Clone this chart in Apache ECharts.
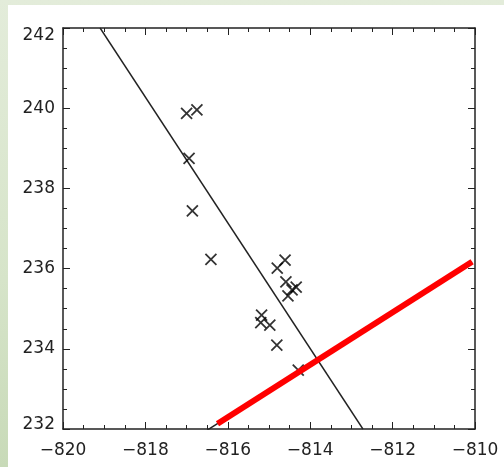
<!DOCTYPE html>
<html>
<head>
<meta charset="utf-8">
<script src="https://cdn.jsdelivr.net/npm/echarts@6/dist/echarts.min.js"></script>
<style>
  html, body { margin: 0; padding: 0; }
  body {
    width: 504px; height: 467px; overflow: hidden; position: relative;
    background: linear-gradient(to bottom, #e3ecda 0%, #d6e4c9 60%, #c8dab8 100%);
  }
  #panel { position: absolute; left: 8px; top: 5px; right: 0; bottom: 0; background: #ffffff; }
  #chart { position: absolute; left: 0; top: 0; width: 504px; height: 467px; }
</style>
</head>
<body>
<div id="panel"></div>
<div id="chart"></div>
<script>
// Measured positions (x, y) of the individual points
const pointX = [-817.0, -816.75, -816.94, -816.86, -816.41, -814.8, -814.61, -814.59,
                -814.44, -814.34, -814.54, -815.18, -815.2, -814.98, -814.81, -814.29];
const pointY = [239.87, 239.96, 238.75, 237.44, 236.23, 236.01, 236.21, 235.67,
                235.47, 235.54, 235.32, 234.84, 234.65, 234.59, 234.09, 233.47];

// Fitted line through the points
const fitX = [-819.1, -812.72];
const fitY = [242, 232];

// Thin guide line and the thick red line lying on it
const guideX = [-816.5, -810.07];
const guideY = [231.97, 236.17];
const redX = [-816.25, -810.07];
const redY = [232.13, 236.17];

// Axis ranges and tick spacing
const xRange = [-820, -810];
const yRange = [232, 242];
const tickStep = 2;

const pairs = (xs, ys) => xs.map((v, i) => [v, ys[i]]);
const minus = v => String(v).replace('-', '\u2212');

const axisColor = '#222';
const labelFont = { fontFamily: 'DejaVu Sans, sans-serif', fontSize: 17, color: '#222' };

function frameAxis(extra) {
  return Object.assign({
    type: 'value',
    interval: tickStep,
    axisLine: { show: true, onZero: false, lineStyle: { color: axisColor, width: 1.5 } },
    axisTick: { show: true, inside: true, length: 7, lineStyle: { color: axisColor, width: 1 } },
    minorTick: { show: true, splitNumber: 4, length: 4, lineStyle: { color: axisColor, width: 1 } },
    splitLine: { show: false },
    minorSplitLine: { show: false }
  }, extra);
}

const chart = echarts.init(document.getElementById('chart'), null, { renderer: 'canvas' });
chart.setOption({
  backgroundColor: 'transparent',
  animation: false,
  grid: { left: 63, right: 29, top: 28, bottom: 38, containLabel: false },
  xAxis: [
    frameAxis({
      min: xRange[0], max: xRange[1], position: 'bottom',
      axisLabel: Object.assign({ margin: 13, formatter: v => minus(v) }, labelFont)
    }),
    frameAxis({ min: xRange[0], max: xRange[1], position: 'top', axisLabel: { show: false } })
  ],
  yAxis: [
    frameAxis({
      min: yRange[0], max: yRange[1], position: 'left',
      axisLabel: Object.assign({
        margin: 8,
        formatter: v => v === yRange[1] ? '{top|' + v + '}' : (v === yRange[0] ? '{bot|' + v + '}' : String(v)),
        rich: {
          top: Object.assign({ padding: [16, 0, 0, 0] }, labelFont),
          bot: Object.assign({ padding: [0, 0, 8, 0] }, labelFont)
        }
      }, labelFont)
    }),
    frameAxis({ min: yRange[0], max: yRange[1], position: 'right', axisLabel: { show: false } })
  ],
  series: [
    {
      type: 'line', data: pairs(fitX, fitY), symbol: 'none', z: 2,
      lineStyle: { color: '#222', width: 1.4 }
    },
    {
      type: 'scatter', data: pairs(pointX, pointY), z: 3,
      symbol: 'path://M0,0L10,10M10,0L0,10', symbolSize: 11,
      itemStyle: { color: 'transparent', borderColor: '#000', borderWidth: 1.8 }
    },
    {
      type: 'line', data: pairs(guideX, guideY), symbol: 'none', z: 4,
      lineStyle: { color: '#222', width: 1.4 }
    },
    {
      type: 'line', data: pairs(redX, redY), symbol: 'none', z: 5,
      lineStyle: { color: '#ff0000', width: 6, cap: 'butt' }
    }
  ]
});
</script>
</body>
</html>
